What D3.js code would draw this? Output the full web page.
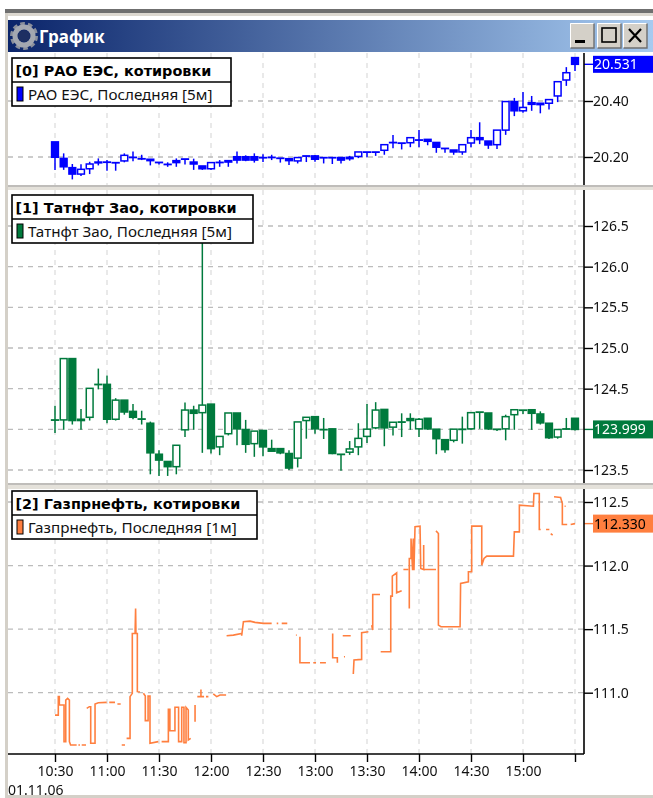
<!DOCTYPE html>
<html>
<head>
<meta charset="utf-8">
<title>График</title>
<script src="https://cdn.jsdelivr.net/npm/d3@7"></script>
<style>
    html, body { margin: 0; padding: 0; background: #fff; }
    svg { display: block; filter: blur(0.45px); font-family: "Noto Sans", sans-serif; }
    .axis text { font-family: "Noto Sans", sans-serif; font-size: 14px; fill: #111; }
    .axis .domain { display: none; }
</style>
</head>
<body>
<div id="chart"></div>
<script>
// time axis: minutes after 10:30, one candle every 5 minutes
const timeTicks = [0, 30, 60, 90, 120, 150, 180, 210, 240, 270, 300];
const timeLabels = ["10:30", "11:00", "11:30", "12:00", "12:30", "13:00", "13:30", "14:00", "14:30", "15:00", ""];
const dateLabel = "01.11.06";
const candleStep = 5;

// [0] РАО ЕЭС
const raoOpen = [20.254,20.195,20.162,20.139,20.158,20.179,20.182,20.180,20.186,20.199,20.194,20.192,20.181,20.174,20.187,20.193,20.182,20.168,20.158,20.181,20.187,20.201,20.201,20.201,20.198,20.199,20.196,20.194,20.186,20.204,20.204,20.198,20.198,20.198,20.199,20.202,20.218,20.218,20.224,20.252,20.250,20.251,20.261,20.263,20.252,20.231,20.225,20.218,20.250,20.269,20.257,20.244,20.296,20.398,20.365,20.394,20.392,20.392,20.418,20.475,20.555];
const raoHigh = [20.254,20.213,20.175,20.174,20.183,20.195,20.189,20.180,20.213,20.220,20.208,20.192,20.181,20.181,20.195,20.193,20.194,20.168,20.180,20.189,20.189,20.220,20.206,20.213,20.210,20.208,20.196,20.194,20.198,20.204,20.207,20.198,20.198,20.198,20.204,20.218,20.218,20.218,20.244,20.279,20.250,20.269,20.296,20.263,20.252,20.231,20.225,20.244,20.296,20.324,20.257,20.296,20.398,20.411,20.432,20.418,20.392,20.405,20.469,20.521,20.555];
const raoLow = [20.154,20.154,20.120,20.132,20.139,20.170,20.151,20.151,20.181,20.185,20.189,20.170,20.173,20.165,20.165,20.173,20.154,20.154,20.154,20.165,20.165,20.177,20.185,20.180,20.182,20.189,20.180,20.171,20.177,20.182,20.183,20.177,20.175,20.177,20.187,20.196,20.199,20.204,20.208,20.231,20.227,20.235,20.235,20.242,20.215,20.215,20.208,20.208,20.235,20.246,20.229,20.229,20.279,20.346,20.358,20.365,20.356,20.370,20.396,20.454,20.507];
const raoClose = [20.199,20.165,20.139,20.156,20.175,20.182,20.182,20.180,20.206,20.199,20.194,20.187,20.181,20.174,20.180,20.193,20.175,20.158,20.180,20.181,20.182,20.189,20.189,20.189,20.198,20.199,20.196,20.187,20.198,20.204,20.192,20.198,20.198,20.189,20.194,20.218,20.218,20.218,20.244,20.252,20.250,20.269,20.261,20.256,20.235,20.231,20.218,20.244,20.269,20.262,20.243,20.296,20.398,20.365,20.377,20.388,20.387,20.405,20.469,20.501,20.531];
const raoTicks = [20.2, 20.4];
const raoLast = 20.531;

// [1] Татнфт Зао
const tatOpen = [124.116,124.116,124.870,124.124,124.148,124.553,124.553,124.124,124.359,124.221,124.128,124.075,123.694,123.605,123.541,123.994,124.237,124.205,124.310,123.784,123.946,124.201,123.998,123.824,123.986,123.763,123.763,123.703,123.646,124.108,124.156,123.998,124.006,123.694,123.719,123.784,123.913,124.018,124.245,124.027,124.091,124.132,124.006,124.136,124.002,123.873,123.865,124.002,124.006,124.213,124.201,124.002,124.006,124.180,124.237,124.241,124.189,124.075,123.905,124.006,124.136];
const tatHigh = [124.290,124.870,124.870,124.249,124.504,124.747,124.662,124.383,124.359,124.310,124.229,124.095,123.743,123.605,123.804,124.330,124.290,126.410,124.310,123.913,124.201,124.201,124.116,123.978,123.986,123.873,123.763,123.743,124.091,124.148,124.156,124.140,124.006,123.694,123.856,124.075,124.310,124.334,124.245,124.087,124.197,124.197,124.140,124.136,124.002,123.873,124.002,124.156,124.205,124.213,124.201,124.002,124.180,124.241,124.237,124.241,124.221,124.075,123.998,124.140,124.136];
const tatLow = [123.954,123.994,124.059,123.994,124.108,124.492,124.075,124.108,124.180,124.124,124.059,123.447,123.427,123.427,123.447,123.905,123.994,123.711,123.703,123.682,123.925,123.804,123.711,123.662,123.670,123.731,123.694,123.500,123.532,123.885,123.946,123.881,123.694,123.492,123.686,123.682,123.832,124.002,123.792,123.925,123.905,123.994,123.905,123.994,123.694,123.711,123.840,123.824,123.994,124.006,123.994,123.978,123.865,123.994,124.189,123.994,124.059,123.881,123.885,123.994,123.985];
const tatClose = [124.116,124.870,124.108,124.108,124.504,124.553,124.124,124.359,124.213,124.148,124.128,123.711,123.622,123.541,123.804,124.237,124.197,124.298,123.763,123.913,124.201,124.006,123.816,123.978,123.784,123.731,123.711,123.524,124.091,124.148,124.006,123.998,123.703,123.694,123.759,123.889,124.002,124.237,124.018,124.087,124.091,124.108,124.124,124.006,123.885,123.751,124.002,124.002,124.205,124.213,124.006,124.002,124.156,124.241,124.237,124.197,124.079,123.897,123.998,124.006,123.999];
const tatTicks = [123.5, 124, 124.5, 125, 125.5, 126, 126.5];
const tatLast = 123.999;

// [2] Газпрнефть: last price line, null marks a hole where no trades came in
const gazMinute = [0,1.9,1.9,2.5,2.5,5.2,5.2,6.2,6.2,7.3,8.3,8.3,9,12.5,12.5,13.5,14.4,14.4,15.4,17.9,17.9,18.3,19.8,20.6,20.6,23.1,23.1,25,29.8,29.8,31.3,34.6,34.6,36,37.9,37.9,38.5,40.4,40.4,41.3,43.3,43.3,44.6,44.6,46.2,46.5,46.7,47.5,47.5,49,49,51,52.1,52.1,53.7,53.7,54.8,54.8,59.6,59.6,61.5,65.4,65.4,66.3,66.3,69.2,69.2,71.3,71.3,73.1,73.1,74.4,74.4,75.6,75.6,76.9,76.9,78.3,78.3,80.8,80.8,80.8,82.1,84.2,84.2,84.2,86,86,87.1,88.5,88.5,91.3,93.3,95.2,98.7,98.7,99,102.9,107.7,107.7,108.7,112.5,115.4,120.2,125,125,127.9,128.8,128.8,130.8,134,134,139,139.4,139.4,141.3,141.3,147.1,147.1,149,150.6,150.6,152.9,156.3,156.3,160.2,160.2,162.9,162.9,162.9,166.7,167.3,167.3,166,170.6,170.6,172.1,172.5,176.9,176.9,180.8,180.8,182.7,183.3,183.3,187.5,187.5,187.9,193.7,193.7,194.6,194.6,197.1,197.1,200,200,201,203.8,203.8,204.4,204.4,205.4,205.4,206.3,206.7,207.1,207.7,210.6,211,212.7,212.7,212.7,219.8,219.8,219.8,221.2,221.2,222.7,233.7,234,238.5,238.5,240.4,240.4,246.2,246.2,247.5,249.1,264.5,265,267.9,267.9,276,276.3,279.4,279.4,280.2,280.2,283.3,285.2,285.2,286,287.1,287.1,287.9,291.7,292.7,292.7,295.5,295.5,297.5,300,300,294,294.6];
const gazPrice = [110.824,110.824,110.969,110.969,110.903,110.903,110.615,110.615,110.942,110.955,110.942,110.615,110.589,110.589,null,110.589,110.589,null,110.589,110.589,null,110.877,110.890,110.890,110.602,110.602,110.911,110.921,110.924,null,110.924,110.924,null,110.911,110.911,null,110.589,110.589,null,110.641,110.641,110.969,110.995,111.466,111.466,111.663,111.466,111.466,111.008,111.005,null,110.995,110.974,110.780,110.780,110.974,110.974,110.602,110.615,null,110.615,110.615,110.869,110.869,110.701,110.701,110.885,110.885,110.615,110.615,110.885,110.885,110.607,110.607,110.885,110.864,110.628,110.641,null,110.903,110.772,null,110.969,110.969,111.026,110.969,110.969,null,110.969,110.969,null,110.990,110.969,110.982,110.982,null,111.448,111.453,111.466,111.448,111.558,111.563,111.553,111.545,111.545,null,111.545,111.545,null,111.545,111.545,null,111.453,111.453,null,111.440,111.236,111.236,null,111.236,111.236,null,111.236,111.236,null,111.466,111.275,111.275,111.236,null,111.283,111.283,null,111.448,111.448,null,111.147,111.257,111.262,111.472,111.479,null,111.532,111.493,111.773,111.773,null,111.322,111.322,111.760,111.760,111.917,111.943,111.786,111.802,null,111.969,111.969,null,111.663,112.056,112.056,112.213,111.964,112.213,111.964,112.305,112.310,111.977,111.969,112.161,111.969,111.969,null,112.273,112.252,111.532,111.519,111.519,111.859,111.872,111.951,111.951,112.310,112.310,112.003,112.056,112.074,112.074,112.265,112.265,112.475,112.467,112.567,112.567,112.284,112.284,null,112.284,112.284,null,112.252,112.239,null,112.541,112.535,112.488,112.323,112.323,null,112.323,112.330,null,112.467,112.467];
const gazTicks = [111, 111.5, 112, 112.5];
const gazLast = 112.330;

// legend texts
const raoTitle = "[0] РАО ЕЭС, котировки";
const raoName = "РАО ЕЭС, Последняя [5м]";
const tatTitle = "[1] Татнфт Зао, котировки";
const tatName = "Татнфт Зао, Последняя [5м]";
const gazTitle = "[2] Газпрнефть, котировки";
const gazName = "Газпрнефть, Последняя [1м]";

const width = 653;
const height = 798;
const plotLeft = 8;
const plotRight = 584;

const svg = d3.select("#chart").append("svg")
    .attr("width", width)
    .attr("height", height);

const x = d3.scaleLinear().domain([0, 300]).range([55, 575]);

// window frame
svg.append("rect").attr("x", 5).attr("y", 9).attr("width", 648).attr("height", 4).attr("fill", "#6f6f6f");
svg.append("rect").attr("x", 5).attr("y", 13).attr("width", 648).attr("height", 3).attr("fill", "#dcd8d0");
svg.append("rect").attr("x", 5).attr("y", 13).attr("width", 3).attr("height", 785).attr("fill", "#d4d0c8");
svg.append("rect").attr("x", 5).attr("y", 795).attr("width", 648).attr("height", 3).attr("fill", "#d4d0c8");

// title bar
const grad = svg.append("defs").append("linearGradient").attr("id", "titleGrad");
grad.append("stop").attr("offset", "0%").attr("stop-color", "#0a246a");
grad.append("stop").attr("offset", "100%").attr("stop-color", "#a6caf0");
svg.append("rect").attr("x", 8).attr("y", 20).attr("width", 645).attr("height", 32).attr("fill", "url(#titleGrad)");

// gear icon
const gear = svg.append("g").attr("transform", "translate(24,36)");
gear.append("circle").attr("r", 12).attr("fill", "none").attr("stroke", "#8a8f9c").attr("stroke-width", 4).attr("stroke-dasharray", "4.5 3");
gear.append("circle").attr("r", 9).attr("fill", "none").attr("stroke", "#a3a7b0").attr("stroke-width", 5);
gear.append("circle").attr("r", 6).attr("fill", "#1d2f62");

svg.append("text").attr("x", 39).attr("y", 42.5)
    .attr("fill", "#fff").attr("font-size", 17).attr("font-weight", "bold")
    .text("График");

// window buttons
const buttonX = [570, 597, 623];
const btn = svg.append("g");
buttonX.forEach((bx, i) => {
    const b = btn.append("g").attr("transform", `translate(${bx},23)`);
    b.append("rect").attr("width", 24).attr("height", 25).attr("fill", "#d4d0c8");
    b.append("path").attr("d", "M0.5,25V0.5H24").attr("fill", "none").attr("stroke", "#fff");
    b.append("path").attr("d", "M24,0.5V25H0.5").attr("fill", "none").attr("stroke", "#6f6f6f").attr("stroke-width", 1.4);
    if (i === 0) b.append("rect").attr("x", 5).attr("y", 17).attr("width", 10).attr("height", 3).attr("fill", "#000");
    if (i === 1) b.append("rect").attr("x", 5).attr("y", 5).attr("width", 14).attr("height", 14).attr("fill", "none").attr("stroke", "#000").attr("stroke-width", 1.6);
    if (i === 2) b.append("path").attr("d", "M6,6L18,19M18,6L6,19").attr("stroke", "#000").attr("stroke-width", 2.2);
});

function makePanel(cfg) {
    const g = svg.append("g");
    const y = d3.scaleLinear().domain(cfg.domain).range(cfg.range);
    const clipId = "clip" + cfg.id;
    svg.select("defs").append("clipPath").attr("id", clipId).append("rect")
        .attr("x", plotLeft).attr("y", cfg.top)
        .attr("width", plotRight - plotLeft).attr("height", cfg.bottom - cfg.top);

    // vertical grid
    g.selectAll(".vgrid").data(timeTicks).enter().append("line")
        .attr("x1", d => x(d)).attr("x2", d => x(d))
        .attr("y1", cfg.top).attr("y2", cfg.bottom)
        .attr("stroke", "#dedede").attr("stroke-width", 1.3).attr("stroke-dasharray", "5 5");

    // horizontal grid
    g.selectAll(".hgrid").data(cfg.ticks).enter().append("line")
        .attr("x1", plotLeft).attr("x2", plotRight)
        .attr("y1", d => y(d)).attr("y2", d => y(d))
        .attr("stroke", "#bcbcbc").attr("stroke-width", 1.3).attr("stroke-dasharray", "5 5");

    // the price tag of the last value hides any tick behind it
    const labelled = cfg.ticks.filter(t => Math.abs(y(t) - y(cfg.last)) > 14);
    const axis = d3.axisRight(y).tickValues(labelled).tickFormat(d3.format(cfg.fmt)).tickSize(9).tickPadding(0);
    const axisG = g.append("g").attr("class", "axis").attr("transform", `translate(${plotRight},0)`).call(axis);
    axisG.selectAll("line").attr("stroke", "#000").attr("stroke-width", 1.4);

    const plot = g.append("g").attr("clip-path", `url(#${clipId})`);
    return { g, y, plot };
}

function drawCandles(panel, open, high, low, close, color) {
    const candles = open.map((o, i) => ({ t: i * candleStep, o, h: high[i], l: low[i], c: close[i] }));
    const y = panel.y;
    const c = panel.plot.selectAll(".candle").data(candles).enter().append("g");
    c.append("line")
        .attr("x1", d => x(d.t)).attr("x2", d => x(d.t))
        .attr("y1", d => y(d.h)).attr("y2", d => y(d.l))
        .attr("stroke", color).attr("stroke-width", 1.5);
    // a zero height rect would not paint, flat candles still need their dash
    c.append("rect")
        .attr("x", d => x(d.t) - 3.4)
        .attr("width", 6.8)
        .attr("y", d => y(Math.max(d.o, d.c)))
        .attr("height", d => Math.max(0.3, Math.abs(y(d.o) - y(d.c))))
        .attr("fill", d => d.c > d.o ? "#fff" : color)
        .attr("stroke", color).attr("stroke-width", 1.5);
}

function drawLastLabel(panel, value, bg, fg, boxH) {
    const yy = panel.y(value);
    panel.g.append("line").attr("x1", plotRight).attr("x2", 593).attr("y1", yy).attr("y2", yy).attr("stroke", bg).attr("stroke-width", 1.4);
    panel.g.append("rect").attr("x", 593).attr("y", yy - boxH / 2).attr("width", 60).attr("height", boxH).attr("fill", bg);
    panel.g.append("text").attr("x", 594).attr("y", yy + 5).attr("font-size", 14).attr("fill", fg).text(d3.format(".3f")(value));
}

function drawLegend(panel, top, w, title, name, color) {
    const l = panel.g.append("g").attr("transform", `translate(12,${top})`);
    l.append("rect").attr("width", w).attr("height", 48).attr("fill", "#fff").attr("stroke", "#000").attr("stroke-width", 1.6);
    l.append("line").attr("x1", 0).attr("x2", w).attr("y1", 24).attr("y2", 24).attr("stroke", "#000").attr("stroke-width", 1.4);
    l.append("text").attr("x", 3.5).attr("y", 17.5).attr("font-size", 14.4).attr("font-weight", "bold")
        .attr("font-family", "'DejaVu Sans', sans-serif").attr("fill", "#000").text(title);
    l.append("rect").attr("x", 5).attr("y", 29).attr("width", 6).attr("height", 14).attr("fill", color).attr("stroke", "#000").attr("stroke-width", 1);
    l.append("text").attr("x", 16).attr("y", 41.5).attr("font-size", 15.2).attr("fill", "#111").text(name);
}

// panels
const raoPanel = makePanel({ id: 0, top: 53, bottom: 185, domain: [20.2, 20.4], range: [157, 101], ticks: raoTicks, last: raoLast, fmt: ".2f" });
drawCandles(raoPanel, raoOpen, raoHigh, raoLow, raoClose, "#0000ff");
drawLastLabel(raoPanel, raoLast, "#0000ff", "#fff", 17);
drawLegend(raoPanel, 58, 219, raoTitle, raoName, "#0000ff");

const tatPanel = makePanel({ id: 1, top: 190, bottom: 483, domain: [123.5, 126.5], range: [470, 226], ticks: tatTicks, last: tatLast, fmt: ".1f" });
drawCandles(tatPanel, tatOpen, tatHigh, tatLow, tatClose, "#007a3d");
drawLastLabel(tatPanel, tatLast, "#007a3d", "#fff", 18);
drawLegend(tatPanel, 195, 241, tatTitle, tatName, "#007a3d");

const gazPanel = makePanel({ id: 2, top: 489, bottom: 754, domain: [111, 112.5], range: [692.7, 502], ticks: gazTicks, last: gazLast, fmt: ".1f" });
const gazPoints = gazMinute.map((m, i) => ({ m, p: gazPrice[i] }));
const gazLine = d3.line()
    .defined(d => d.p !== null)
    .x(d => x(d.m))
    .y(d => gazPanel.y(d.p));
gazPanel.plot.append("path")
    .datum(gazPoints)
    .attr("fill", "none")
    .attr("stroke", "#ff7f3f")
    .attr("stroke-width", 1.6)
    .attr("d", gazLine);
drawLastLabel(gazPanel, gazLast, "#ff7f3f", "#000", 18);
drawLegend(gazPanel, 491, 245, gazTitle, gazName, "#ff7f3f");

// panel separators
[[185, 190], [483, 489]].forEach(s => {
    svg.append("rect").attr("x", 8).attr("y", s[0]).attr("width", 645).attr("height", s[1] - s[0]).attr("fill", "#e4e1da");
    svg.append("line").attr("x1", 8).attr("x2", 653).attr("y1", s[0] + 1).attr("y2", s[0] + 1).attr("stroke", "#9a9a9a").attr("stroke-width", 1.2);
});

// right axis line, stops at the separators
[[53, 185], [190, 483], [489, 754]].forEach(s => {
    svg.append("line").attr("x1", plotRight).attr("x2", plotRight).attr("y1", s[0]).attr("y2", s[1]).attr("stroke", "#000").attr("stroke-width", 1.6);
});

// time axis
const xAxis = d3.axisBottom(x)
    .tickValues(timeTicks)
    .tickFormat((d, i) => timeLabels[i])
    .tickSize(8)
    .tickPadding(4);
const xAxisG = svg.append("g").attr("class", "axis").attr("transform", "translate(0,754)").call(xAxis);
xAxisG.selectAll("line").attr("stroke", "#000").attr("stroke-width", 1.4);
svg.append("line").attr("x1", plotLeft).attr("x2", plotRight).attr("y1", 754).attr("y2", 754).attr("stroke", "#000").attr("stroke-width", 1.6);
svg.append("text").attr("x", 8).attr("y", 795).attr("font-size", 14).attr("fill", "#111").text(dateLabel);
</script>
</body>
</html>
